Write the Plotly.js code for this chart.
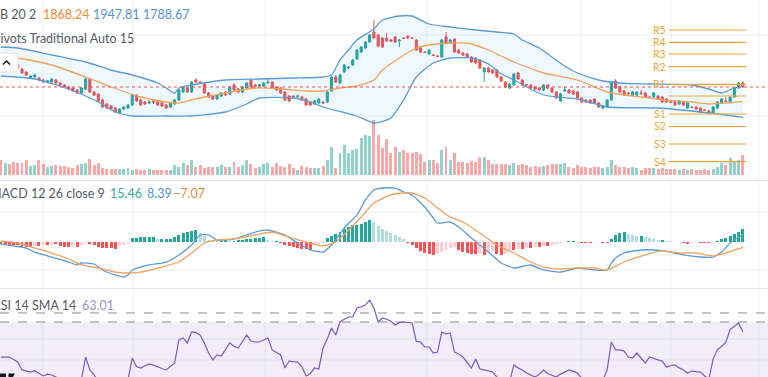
<!DOCTYPE html>
<html><head><meta charset="utf-8">
<script src="https://cdn.plot.ly/plotly-3.0.1.min.js"></script>
<style>html,body{margin:0;padding:0;background:#fff;overflow:hidden}#chart{width:768px;height:377px}</style>
</head><body><div id="chart"></div>
<script>
// ---------- DATA ----------
const openP = [2091.2,2070.8,2081.0,2060.6,2055.5,2035.1,2019.8,1989.2,1994.3,1989.2,
1979.0,1968.8,1968.8,1979.0,1963.7,1953.5,1943.3,1938.2,1928.0,1912.7,
1933.1,1984.1,1917.8,1907.6,1877.0,1856.6,1846.4,1836.2,1810.7,1831.1,
1836.2,1851.5,1902.5,1877.0,1866.8,1861.7,1871.9,1866.8,1861.7,1851.5,
1841.3,1856.6,1877.0,1917.8,1938.2,1917.8,1979.0,1968.8,1958.6,1912.7,
1897.4,1882.1,1897.4,1917.8,1907.6,1953.5,1933.1,1917.8,1938.2,1979.0,
1953.5,1948.4,1948.4,1963.7,1968.8,1943.3,1938.2,1917.8,1897.4,1897.4,
1894.9,1892.3,1882.1,1866.8,1856.6,1861.7,1866.8,1866.8,1922.9,1994.3,
1963.7,2019.8,2040.2,2055.5,2086.1,2121.8,2142.2,2172.8,2223.8,2208.5,
2193.2,2193.2,2183.0,2198.3,2177.9,2193.2,2203.4,2193.2,2183.0,2142.2,
2121.8,2111.6,2106.5,2101.4,2096.3,2198.3,2167.7,2188.1,2132.0,2116.7,
2111.6,2096.3,2091.2,2081.0,2019.8,2040.2,2030.0,2030.0,1994.3,1968.8,
1938.2,1953.5,2014.7,1979.0,1956.1,1953.5,1943.3,1938.2,1928.0,1953.5,
1938.2,1917.8,1871.9,1922.9,1928.0,1922.9,1917.8,1887.2,1877.0,1877.0,
1882.1,1861.7,1836.2,1841.3,1877.0,1973.9,1943.3,1922.9,1912.7,1902.5,
1902.5,1912.7,1912.7,1892.3,1892.3,1897.4,1892.3,1882.1,1866.8,1866.8,
1856.6,1866.8,1836.2,1841.3,1841.3,1836.2,1826.0,1820.9,1810.7,1836.2,
1861.7,1871.9,1866.8,1892.3,1938.2,1963.7];
const highP = [2101.4,2096.3,2086.1,2065.7,2060.6,2040.2,2024.9,2004.5,2009.6,1994.3,
1984.1,1979.0,1989.2,1984.1,1968.8,1958.6,1948.4,1943.3,1933.1,1943.3,
1994.3,1989.2,1922.9,1912.7,1882.1,1861.7,1851.5,1841.3,1836.2,1846.4,
1856.6,1907.6,1907.6,1882.1,1871.9,1877.0,1877.0,1871.9,1866.8,1856.6,
1866.8,1882.1,1933.1,1948.4,1943.3,1973.9,1989.2,1973.9,1963.7,1917.8,
1902.5,1907.6,1917.8,1922.9,1948.4,1963.7,1938.2,1948.4,1968.8,1984.1,
1958.6,1958.6,1968.8,1984.1,1973.9,1948.4,1943.3,1922.9,1902.5,1902.5,
1902.5,1897.4,1887.2,1871.9,1877.0,1887.2,1871.9,1922.9,1999.4,2004.5,
2009.6,2060.6,2050.4,2086.1,2137.1,2152.4,2177.9,2213.6,2285.0,2213.6,
2198.3,2218.7,2188.1,2203.4,2188.1,2198.3,2208.5,2198.3,2188.1,2147.3,
2126.9,2137.1,2111.6,2106.5,2188.1,2223.8,2188.1,2193.2,2137.1,2121.8,
2116.7,2101.4,2096.3,2086.1,2045.3,2045.3,2035.1,2035.1,1999.4,1973.9,
1963.7,2014.7,2019.8,1984.1,1958.6,1958.6,1948.4,1943.3,1958.6,1958.6,
1943.3,1922.9,1912.7,1943.3,1933.1,1928.0,1922.9,1892.3,1882.1,1882.1,
1887.2,1866.8,1851.5,1882.1,1973.9,1984.1,1948.4,1928.0,1917.8,1922.9,
1922.9,1928.0,1917.8,1897.4,1917.8,1902.5,1897.4,1887.2,1871.9,1871.9,
1877.0,1871.9,1866.8,1846.4,1846.4,1841.3,1831.1,1826.0,1846.4,1871.9,
1887.2,1892.3,1897.4,1943.3,1968.8,1973.9];
const lowP = [2070.8,2065.7,2055.5,2045.3,2035.1,2009.6,1999.4,1984.1,1989.2,1973.9,
1963.7,1963.7,1963.7,1958.6,1948.4,1938.2,1928.0,1917.8,1907.6,1907.6,
1928.0,1912.7,1897.4,1866.8,1836.2,1831.1,1826.0,1810.7,1805.6,1826.0,
1831.1,1846.4,1866.8,1846.4,1851.5,1856.6,1856.6,1846.4,1841.3,1831.1,
1836.2,1851.5,1871.9,1912.7,1912.7,1912.7,1963.7,1958.6,1907.6,1887.2,
1877.0,1877.0,1892.3,1897.4,1902.5,1922.9,1912.7,1912.7,1933.1,1938.2,
1943.3,1943.3,1943.3,1958.6,1933.1,1922.9,1907.6,1871.9,1866.8,1887.2,
1887.2,1871.9,1846.4,1846.4,1851.5,1856.6,1856.6,1861.7,1917.8,1963.7,
1958.6,2014.7,2035.1,2050.4,2081.0,2116.7,2137.1,2167.7,2188.1,2147.3,
2142.2,2172.8,2172.8,2167.7,2147.3,2188.1,2188.1,2188.1,2126.9,2116.7,
2116.7,2106.5,2101.4,2096.3,2091.2,2162.6,2162.6,2116.7,2111.6,2101.4,
2091.2,2065.7,2060.6,2035.1,1968.8,2014.7,2009.6,1989.2,1968.8,1938.2,
1933.1,1948.4,1979.0,1948.4,1948.4,1933.1,1928.0,1922.9,1922.9,1933.1,
1912.7,1882.1,1866.8,1917.8,1907.6,1902.5,1882.1,1861.7,1861.7,1856.6,
1856.6,1836.2,1831.1,1836.2,1871.9,1933.1,1912.7,1897.4,1902.5,1897.4,
1897.4,1902.5,1887.2,1887.2,1887.2,1877.0,1861.7,1861.7,1861.7,1846.4,
1851.5,1846.4,1831.1,1836.2,1826.0,1810.7,1820.9,1805.6,1805.6,1831.1,
1856.6,1866.8,1861.7,1887.2,1933.1,1938.2];
const closeP = [2075.9,2086.1,2060.6,2050.4,2040.2,2014.7,2004.5,1999.4,2004.5,1979.0,
1968.8,1973.9,1984.1,1963.7,1953.5,1943.3,1933.1,1922.9,1912.7,1938.2,
1984.1,1917.8,1902.5,1871.9,1841.3,1836.2,1831.1,1815.8,1831.1,1841.3,
1851.5,1902.5,1871.9,1851.5,1856.6,1866.8,1866.8,1851.5,1846.4,1836.2,
1861.7,1877.0,1928.0,1943.3,1917.8,1968.8,1968.8,1963.7,1912.7,1892.3,
1882.1,1902.5,1912.7,1902.5,1943.3,1928.0,1917.8,1943.3,1963.7,1943.3,
1948.4,1953.5,1963.7,1968.8,1938.2,1928.0,1912.7,1877.0,1871.9,1892.3,
1897.4,1877.0,1851.5,1851.5,1871.9,1882.1,1861.7,1917.8,1994.3,1968.8,
2004.5,2055.5,2045.3,2081.0,2132.0,2147.3,2172.8,2208.5,2193.2,2152.4,
2147.3,2177.9,2177.9,2172.8,2183.0,2190.7,2193.2,2190.7,2132.0,2121.8,
2119.3,2132.0,2104.0,2098.9,2183.0,2167.7,2183.0,2121.8,2116.7,2106.5,
2096.3,2070.8,2065.7,2040.2,2040.2,2019.8,2014.7,1994.3,1973.9,1943.3,
1958.6,2009.6,1984.1,1953.5,1953.5,1938.2,1933.1,1928.0,1953.5,1938.2,
1917.8,1887.2,1907.6,1928.0,1912.7,1907.6,1887.2,1866.8,1866.8,1861.7,
1861.7,1841.3,1846.4,1877.0,1968.8,1938.2,1917.8,1902.5,1910.2,1917.8,
1917.8,1910.2,1892.3,1889.8,1912.7,1882.1,1866.8,1866.8,1864.3,1851.5,
1871.9,1851.5,1861.7,1838.8,1831.1,1815.8,1823.5,1810.7,1841.3,1866.8,
1882.1,1869.4,1892.3,1938.2,1963.7,1943.3];
const volume = [15,12,11,13,12,12,15,9,10,15, 11,8,9,10,9,9,8,7,10,11,
12,16,10,12,7,6,6,6,6,6, 7,5,6,5,5,6,5,5,5,5,
5,10,8,12,10,15,8,10,7,8, 8,8,10,8,8,13,8,10,15,11,
7,8,11,12,8,12,9,8,11,7, 5,9,8,7,7,7,9,15,28,7,
22,30,22,25,26,37,40,39,55,40, 27,36,22,28,23,25,22,22,23,21,
13,15,15,12,25,28,15,22,13,13, 12,14,13,18,18,15,11,11,11,11,
10,12,10,11,10,8,9,8,9,10, 11,11,11,12,8,7,10,8,8,7,
8,8,7,8,15,10,8,8,7,8, 7,5,7,7,7,6,7,6,6,6,
5,6,5,6,5,5,6,5,6,8, 12,10,17,13,15,20];
const bbUpperIdx = [0,4,12,20,26,31,37,39,41,42,45,53,61,69,76,78,80,82,84,88,90,94,97,101,106,112,117,121,123,127,130,133,136,141,146,153,163,167,170,173,175];
const bbUpper = [2147.3,2142.2,2106.5,2070.8,2030.0,2004.5,1963.7,1938.2,1912.7,1938.2,1953.5,1979.0,1984.1,1989.2,1994.3,2004.5,2081.0,2132.0,2183.0,2239.1,2285.0,2305.4,2305.4,2264.6,2249.3,2234.0,2223.8,2213.6,2183.0,2142.2,2096.3,2050.4,2014.7,1979.0,1963.7,1958.6,1953.5,1933.1,1912.7,1938.2,1947.81];
const bbMidIdx = [0,4,12,20,26,33,39,42,45,47,53,60,66,72,76,80,84,88,90,94,98,101,106,111,115,118,121,126,128,136,143,151,156,163,167,171,175];
const bbMid = [2101.4,2091.2,2055.5,1994.3,1943.3,1892.3,1866.8,1861.7,1877.0,1887.2,1912.7,1938.2,1933.1,1922.9,1922.9,1938.2,1948.4,1979.0,2030.0,2091.2,2142.2,2157.5,2167.7,2162.6,2132.0,2101.4,2070.8,2030.0,2014.7,1979.0,1917.8,1892.3,1877.0,1866.8,1856.6,1861.7,1868.24];
const bbLowerIdx = [0,8,16,23,27,31,39,45,53,58,61,69,73,76,84,88,92,95,98,102,106,111,115,118,121,128,136,143,155,167,175];
const bbLower = [1999.4,1984.1,1933.1,1866.8,1815.8,1795.4,1795.4,1795.4,1815.8,1856.6,1887.2,1887.2,1866.8,1841.3,1795.4,1759.7,1785.2,1877.0,1994.3,2065.7,2091.2,2091.2,2060.6,2009.6,1979.0,1902.5,1882.1,1841.3,1836.2,1810.7,1788.67];
const pivotNames = ['R5','R4','R3','R2','R1','P','S1','S2','S3','S4'];
const pivotValues = [2234.0,2171.3,2111.6,2046.8,1957.1,1897.4,1805.6,1741.9,1652.6,1562.3];
const pivotStart = 157.5, pivotEnd = 175.8;
const macdIdx = [0,3,6,8,12,16,18,19,22,24,27,29,30,31,35,39,42,45,47,49,51,55,58,60,63,67,70,73,76,78,81,84,86,88,90,93,95,97,100,102,103,106,108,111,115,118,121,125,128,132,136,140,143,144,145,147,151,154,158,161,165,168,170,172,175];
const macdLine = [-3.0,-5.2,-7.7,-12.6,-18.7,-24.8,-28.4,-26.0,-27.2,-34.5,-40.6,-43.1,-40.6,-34.5,-28.4,-24.8,-16.2,-4.0,8.2,8.2,2.1,3.3,8.2,11.8,14.3,8.2,-1.6,-10.1,-12.6,-4.0,16.7,32.6,50.9,63.1,65.5,65.5,60.6,57.0,42.3,28.9,22.8,24.0,17.9,4.5,-12.6,-26.0,-32.1,-28.4,-34.5,-37.0,-32.1,-34.5,-34.5,-26.0,-20.0,-13.8,-10.1,-10.1,-12.6,-16.2,-18.7,-18.7,-12.6,-1.6,8.39];
const signalIdx = [0,4,8,12,16,19,23,27,30,33,38,42,45,48,51,55,60,64,68,72,76,79,82,85,88,92,95,97,100,103,106,109,113,117,121,125,128,132,136,140,143,147,152,156,160,164,168,171,175];
const signalLine = [1.0,-1.6,-7.7,-13.8,-21.1,-28.4,-32.1,-37.0,-38.2,-37.0,-30.9,-24.8,-13.8,-1.6,2.1,3.3,8.2,11.8,5.7,-0.4,-5.2,-0.4,14.3,30.1,47.2,57.0,59.4,59.4,53.3,41.1,30.1,24.0,10.6,-4.0,-13.8,-24.8,-30.9,-33.3,-32.1,-32.1,-34.5,-24.8,-16.2,-11.3,-13.8,-13.8,-17.4,-13.8,-7.07];
const macdHist = [-2.4,-2.4,-3.7,-3.7,-3.7,-6.1,-6.1,-6.1,-4.9,-4.9,
-3.7,-3.7,-2.4,-2.4,-4.9,-6.1,-6.1,-4.9,-6.1,-3.7,
-1.2,-2.4,-3.7,-6.1,-7.3,-7.3,-7.3,-8.5,-4.9,-3.7,
-2.4,4.9,4.9,6.1,6.1,6.1,6.1,3.7,3.7,3.7,
3.7,6.1,8.5,11.0,12.2,13.4,14.6,11.0,7.3,2.4,
1.2,0.6,1.2,2.4,1.2,1.2,2.4,2.4,3.7,3.7,
4.9,4.9,6.1,2.4,1.2,1.2,-1.2,-3.7,-4.9,-6.1,
-7.3,-8.5,-8.5,-9.8,-3.7,-2.4,-1.2,4.9,7.3,9.8,
12.2,15.9,18.3,20.7,20.7,22.0,24.4,26.8,24.4,19.5,
15.9,13.4,11.0,8.5,6.1,3.7,-1.2,-3.7,-7.3,-11.0,
-13.4,-14.6,-15.9,-14.6,-12.2,-9.8,-7.3,-6.1,-9.8,-12.2,
-13.4,-14.6,-14.6,-13.4,-15.9,-12.2,-11.0,-14.6,-15.9,-14.6,
-9.8,-9.8,-8.5,-8.5,-7.3,-7.3,-6.1,-6.1,-4.9,-4.9,
-3.7,-2.4,-1.2,0,1.2,1.2,0,-1.2,-1.2,-1.2,
0,0,-1.2,-1.2,3.7,8.5,11.0,12.2,9.8,8.5,
7.3,7.3,6.1,4.9,3.7,2.4,2.4,1.2,0.6,0,
-0.6,-1.2,-2.4,-1.2,-0.6,-1.2,-1.2,-1.2,-0.6,1.2,
3.7,4.9,7.3,9.8,12.2,15.46];
const rsi = [44.8,45.0,44.8,43.0,41.2,35.5,34.5,34.0,35.0,33.3,
31.2,32.5,31.9,30.4,28.5,27.0,25.5,24.5,23.0,28.5,
44.8,35.5,31.9,27.0,22.0,21.0,20.5,19.0,23.5,25.0,
28.5,44.1,38.0,36.9,38.5,39.8,39.0,37.6,36.5,35.5,
38.0,40.5,57.1,58.5,54.9,62.8,62.5,60.6,55.0,47.7,
42.7,46.3,45.5,50.0,54.9,52.5,51.3,56.0,60.6,56.3,
55.6,55.6,57.0,58.5,49.9,48.0,46.3,36.9,41.9,41.5,
41.2,38.0,31.2,33.0,36.9,36.2,51.3,58.0,65.7,60.6,
70.0,72.0,73.6,73.6,80.1,81.0,82.2,85.8,80.1,70.0,
72.9,72.0,70.5,67.8,69.5,70.0,69.6,69.3,56.0,55.6,
52.0,52.0,47.7,48.4,62.8,61.5,62.1,48.4,47.0,44.8,
41.0,36.9,43.4,36.2,35.5,35.0,34.0,30.4,28.0,25.0,
27.0,39.1,37.0,35.5,33.3,32.0,30.4,32.5,35.5,33.0,
31.9,30.4,32.5,34.0,35.5,34.5,33.3,29.5,28.5,27.5,
27.0,25.0,28.0,35.5,55.6,49.9,49.9,49.1,44.8,44.1,
47.7,44.1,40.5,44.8,43.5,42.7,41.9,37.6,38.5,39.1,
37.0,35.5,33.3,34.7,34.3,34.0,31.2,29.0,43.5,50.0,
52.5,55.5,64.5,67.0,69.3,63.01];
const rsiBands = [70, 76.5];
const bbLegend = ['BB 20 2', '1868.24', '1947.81', '1788.67'];
const pivotLegend = 'Pivots Traditional Auto 15';
const macdLegend = ['MACD 12 26 close 9', '15.46', '8.39', '\u22127.07'];
const rsiLegend = ['RSI 14 SMA 14', '63.01'];

// ---------- LAYOUT HELPERS ----------
const W = 768, H = 377;
const px = x => x / W, py = y => 1 - y / H;
const idx = closeP.map((_, i) => i);
const UP = '#26a69a', DOWN = '#ef5350', BLUE = '#5b9bd5', ORANGE = '#f2a05a', PIV = '#f0a535';

const volColors = closeP.map((c, i) => c >= openP[i] ? 'rgba(38,166,154,0.5)' : 'rgba(239,83,80,0.5)');
const histColors = macdHist.map((h, i) => {
  const p = i > 0 ? macdHist[i - 1] : 0;
  if (h >= 0) return h >= p ? '#26a69a' : '#b2dfdb';
  return h <= p ? '#ff5252' : '#ffcdd2';
});

const traces = [];
traces.push({type: 'bar', x: idx, y: volume, marker: {color: volColors, line: {width: 0}}, width: 0.7, xaxis: 'x', yaxis: 'y', hoverinfo: 'skip'});
traces.push({type: 'scatter', mode: 'lines', x: bbUpperIdx, y: bbUpper, line: {color: BLUE, width: 1.3, shape: 'spline', smoothing: 0.6}, xaxis: 'x', yaxis: 'y2', hoverinfo: 'skip'});
traces.push({type: 'scatter', mode: 'lines', x: bbLowerIdx, y: bbLower, line: {color: BLUE, width: 1.3, shape: 'spline', smoothing: 0.6}, fill: 'tonexty', fillcolor: 'rgba(33,150,243,0.07)', xaxis: 'x', yaxis: 'y2', hoverinfo: 'skip'});
traces.push({type: 'scatter', mode: 'lines', x: bbMidIdx, y: bbMid, line: {color: ORANGE, width: 1.3, shape: 'spline', smoothing: 0.6}, xaxis: 'x', yaxis: 'y2', hoverinfo: 'skip'});
pivotValues.forEach((v, k) => {
  traces.push({type: 'scatter', mode: 'lines', x: [pivotStart, pivotEnd], y: [v, v], line: {color: PIV, width: 1.2}, xaxis: 'x', yaxis: 'y2', hoverinfo: 'skip'});
});
traces.push({type: 'candlestick', x: idx, open: openP, high: highP, low: lowP, close: closeP,
  increasing: {line: {color: UP, width: 1}, fillcolor: UP}, decreasing: {line: {color: DOWN, width: 1}, fillcolor: DOWN},
  whiskerwidth: 0, xaxis: 'x', yaxis: 'y2', hoverinfo: 'skip'});
traces.push({type: 'bar', x: idx, y: macdHist, marker: {color: histColors, line: {width: 0}}, width: 0.7, xaxis: 'x', yaxis: 'y3', hoverinfo: 'skip'});
traces.push({type: 'scatter', mode: 'lines', x: macdIdx, y: macdLine, line: {color: BLUE, width: 1.3, shape: 'spline', smoothing: 0.5}, xaxis: 'x', yaxis: 'y3', hoverinfo: 'skip'});
traces.push({type: 'scatter', mode: 'lines', x: signalIdx, y: signalLine, line: {color: ORANGE, width: 1.3, shape: 'spline', smoothing: 0.5}, xaxis: 'x', yaxis: 'y3', hoverinfo: 'skip'});
traces.push({type: 'scatter', mode: 'lines', x: idx, y: rsi, line: {color: '#7e57c2', width: 1.2}, xaxis: 'x', yaxis: 'y4', hoverinfo: 'skip'});

// ---------- shapes ----------
const shapes = [];
const gridX = [43, 133, 265, 427, 581, 671, 759];
const gridY = [35, 116, 212, 270, 339, 360];
gridX.forEach(g => shapes.push({type: 'line', xref: 'paper', yref: 'paper', x0: px(g), x1: px(g), y0: 0, y1: 1, line: {color: '#eef1f7', width: 1}, layer: 'below'}));
gridY.forEach(g => shapes.push({type: 'line', xref: 'paper', yref: 'paper', x0: 0, x1: 1, y0: py(g), y1: py(g), line: {color: '#eef1f7', width: 1}, layer: 'below'}));
[180.5, 288.5].forEach(g => shapes.push({type: 'line', xref: 'paper', yref: 'paper', x0: 0, x1: 1, y0: py(g), y1: py(g), line: {color: '#e3e6ee', width: 1}, layer: 'below'}));
shapes.push({type: 'rect', xref: 'paper', yref: 'y4', x0: 0, x1: 1, y0: 30, y1: rsiBands[0], fillcolor: 'rgba(126,87,194,0.1)', line: {width: 0}, layer: 'below'});
rsiBands.forEach(b => shapes.push({type: 'line', xref: 'paper', yref: 'y4', x0: 0, x1: 1, y0: b, y1: b, line: {color: '#8a8d96', width: 1, dash: 'dash'}, layer: 'below'}));
shapes.push({type: 'line', xref: 'paper', yref: 'y2', x0: 0, x1: 1, y0: closeP[closeP.length - 1], y1: closeP[closeP.length - 1], line: {color: DOWN, width: 1, dash: 'dot'}});
// collapse button (partly off the left edge)
const bx0 = -12, bx1 = 18, by0 = 53, by1 = 72, r = 3;
const P = (x, y) => px(x) + ',' + py(y);
shapes.push({type: 'path', xref: 'paper', yref: 'paper', fillcolor: '#ffffff', line: {color: '#e0e3eb', width: 1},
  path: 'M' + P(bx0, by0) + ' L' + P(bx1 - r, by0) + ' Q' + P(bx1, by0) + ' ' + P(bx1, by0 + r) + ' L' + P(bx1, by1 - r) + ' Q' + P(bx1, by1) + ' ' + P(bx1 - r, by1) + ' L' + P(bx0, by1) + ' Z'});
shapes.push({type: 'path', xref: 'paper', yref: 'paper', line: {color: '#131722', width: 1.5},
  path: 'M' + P(3, 64.5) + ' L' + P(6.5, 61) + ' L' + P(10, 64.5)});
// logo corner (bottom-left, cut by the edge)
shapes.push({type: 'path', xref: 'paper', yref: 'paper', fillcolor: '#131722', line: {width: 0},
  path: 'M' + P(0, 373.5) + ' L' + P(6, 373.5) + ' L' + P(6, 377) + ' L' + P(0, 377) + ' Z'});
shapes.push({type: 'path', xref: 'paper', yref: 'paper', fillcolor: '#131722', line: {width: 0},
  path: 'M' + P(8.5, 373.5) + ' L' + P(15, 373.5) + ' L' + P(13, 377) + ' L' + P(8.5, 377) + ' Z'});

// ---------- annotations ----------
const ann = [];
const txt = (t, x, y, color, size) => ann.push({text: t, xref: 'paper', yref: 'paper', x: px(x), y: py(y), xanchor: 'left', yanchor: 'middle', showarrow: false, font: {family: 'Lato, sans-serif', size: size || 12.5, color: color}, borderpad: 0});
txt(bbLegend[0], -9, 15, '#555a66');
txt(bbLegend[1], 42, 15, '#ee8a3a');
txt(bbLegend[2], 92, 15, '#4f94d4');
txt(bbLegend[3], 142, 15, '#4f94d4');
txt(pivotLegend, -8, 38, '#555a66');
txt(macdLegend[0], -11, 193, '#555a66');
txt(macdLegend[1], 109, 193, '#3aa996');
txt(macdLegend[2], 146, 193, '#4f94d4');
txt(macdLegend[3], 172, 193, '#ee8a3a');
txt(rsiLegend[0], -8, 305, '#555a66');
txt(rsiLegend[1], 81, 305, '#9d8fc9');
pivotNames.forEach((n, k) => {
  if (n === 'P') return;
  ann.push({text: n, xref: 'x', yref: 'y2', x: pivotStart - 0.4, y: pivotValues[k], xanchor: 'right', yanchor: 'middle', showarrow: false, font: {family: 'Lato, sans-serif', size: 10.5, color: PIV}, borderpad: 0});
});

const layout = {
  width: W, height: H, margin: {l: 0, r: 0, t: 0, b: 0}, paper_bgcolor: '#ffffff', plot_bgcolor: 'rgba(0,0,0,0)',
  showlegend: false, bargap: 0, boxgap: 0.3,
  xaxis: {range: [-0.19, 180.94], showgrid: false, zeroline: false, showticklabels: false, showline: false, fixedrange: true, rangeslider: {visible: false}},
  yaxis: {domain: [1 - 180 / H, 1], range: [-5, 175], showgrid: false, zeroline: false, showticklabels: false, fixedrange: true},
  yaxis2: {overlaying: 'y', range: [1469, 2387], showgrid: false, zeroline: false, showticklabels: false, fixedrange: true},
  yaxis3: {domain: [1 - 288 / H, 1 - 181 / H], range: [-56.49, 74.05], showgrid: false, zeroline: false, showticklabels: false, fixedrange: true},
  yaxis4: {domain: [0, 1 - 289 / H], range: [30.43, 93.74], showgrid: false, zeroline: false, showticklabels: false, fixedrange: true},
  shapes: shapes, annotations: ann
};
Plotly.newPlot('chart', traces, layout, {staticPlot: true, displayModeBar: false});
</script></body></html>
